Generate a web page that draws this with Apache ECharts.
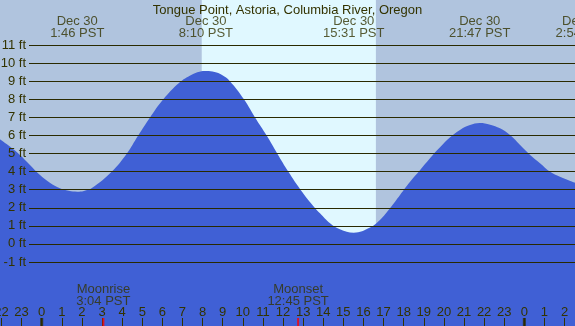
<!DOCTYPE html>
<html>
<head>
<meta charset="utf-8">
<script src="https://cdn.jsdelivr.net/npm/echarts@6/dist/echarts.min.js"></script>
<style>html,body{margin:0;padding:0;background:#B0C4DE;}#c{width:575px;height:326px;}</style>
</head>
<body>
<div id="c"></div>
<script>
// Hours relative to Dec 30 00:00 PST, tide level in ft
const hours = [-2.07, -1.58, -1.08, -0.58, -0.08, 0.41, 0.91, 1.35, 1.77, 2.10, 2.50, 3.48, 4.23, 4.80, 5.39, 6.05, 6.83, 7.46, 7.85, 8.20, 8.60, 8.95, 9.36, 10.06, 10.61, 11.19, 11.72, 12.27, 12.88, 13.59, 13.84, 14.34, 14.83, 15.52, 16.33, 16.82, 17.32, 17.82, 18.32, 18.82, 19.31, 19.81, 20.31, 20.80, 21.30, 21.78, 22.30, 22.79, 23.29, 23.79, 24.29, 24.78, 25.28, 25.77, 26.52];
const levels = [5.79, 5.39, 4.93, 4.38, 3.82, 3.40, 3.09, 2.95, 2.90, 2.94, 3.10, 4.00, 5.00, 6.00, 7.00, 8.00, 8.90, 9.35, 9.52, 9.56, 9.50, 9.35, 9.00, 8.00, 7.00, 6.00, 5.00, 4.00, 3.00, 2.00, 1.71, 1.16, 0.83, 0.64, 0.92, 1.34, 1.99, 2.72, 3.45, 4.10, 4.75, 5.35, 5.90, 6.31, 6.58, 6.69, 6.60, 6.40, 6.03, 5.48, 4.93, 4.47, 4.00, 3.73, 3.40];

const extremeHours = [1.767, 8.167, 15.517, 21.783, 26.9];
const extremeDates = ['Dec 30', 'Dec 30', 'Dec 30', 'Dec 30', 'Dec 31'];
const extremeTimes = ['1:46 PST', '8:10 PST', '15:31 PST', '21:47 PST', '2:54 PST'];

const moonHours = [3.067, 12.75];
const moonNames = ['Moonrise', 'Moonset'];
const moonTimes = ['3:04 PST', '12:45 PST'];

const midnightHours = [0, 24];
const sunrise = 7.96, sunset = 16.62;

const title = 'Tongue Point, Astoria, Columbia River, Oregon';
const txt = '#333300';
const font = 'Liberation Sans, Arial, sans-serif';
const fs = 13;

const chart = echarts.init(document.getElementById('c'), null, {renderer: 'canvas'});
chart.setOption({
  backgroundColor: '#B0C4DE',
  animation: false,
  title: {text: title, left: 'center', top: -1, textStyle: {fontSize: fs, fontWeight: 'normal', color: txt, fontFamily: font}},
  grid: [
    {left: 0, right: 0, top: 0, bottom: 0, outerBoundsMode: 'none', containLabel: false},
    {left: 29, right: 0, top: 45, bottom: 64, outerBoundsMode: 'none', containLabel: false},
    {left: 1.48, right: 10.44, top: 0, bottom: 0, outerBoundsMode: 'none', containLabel: false}
  ],
  xAxis: [
    {gridIndex: 0, type: 'value', min: -2.07, max: 26.52, show: false},
    {gridIndex: 1, type: 'value', min: 0, max: 1, show: false},
    {gridIndex: 2, type: 'value', min: -2, max: 26, interval: 1, z: 10,
      axisLine: {show: false}, splitLine: {show: false},
      axisTick: {inside: true, length: 8, lineStyle: {color: txt, width: 1}},
      axisLabel: {inside: true, margin: 7, color: txt, fontSize: fs, fontFamily: font, showMinLabel: true, showMaxLabel: true,
        formatter: v => String(((v % 24) + 24) % 24)}}
  ],
  yAxis: [
    {gridIndex: 0, type: 'value', min: -4.51, max: 13.48, show: false},
    {gridIndex: 1, type: 'value', min: -1, max: 11, interval: 1, z: 10,
      axisLine: {show: false}, axisTick: {show: false},
      splitLine: {show: true, lineStyle: {color: '#2a2a00', width: 1}},
      axisLabel: {margin: 3, color: txt, fontSize: fs, fontFamily: font, formatter: v => v + ' ft'}},
    {gridIndex: 2, type: 'value', min: 0, max: 1, show: false}
  ],
  series: [
    {type: 'line', xAxisIndex: 0, yAxisIndex: 0, data: [], z: 1, silent: true,
      markArea: {silent: true, itemStyle: {color: '#E0F8FF'}, data: [[{xAxis: sunrise}, {xAxis: sunset}]]}},
    {type: 'line', xAxisIndex: 0, yAxisIndex: 0, z: 2, smooth: 0.4, symbol: 'none',
      data: hours.map((h, i) => [h, levels[i]]),
      lineStyle: {width: 0}, areaStyle: {color: '#4060D5', opacity: 1, origin: 'start'}},
    {type: 'scatter', xAxisIndex: 2, yAxisIndex: 2, z: 20, clip: false, symbolSize: 0,
      data: extremeHours.map((h, i) => ({value: [h, 1], name: extremeDates[i] + '\n' + extremeTimes[i]})),
      label: {show: true, position: 'bottom', distance: 15, color: txt, fontSize: fs, lineHeight: 12, fontFamily: font,
        formatter: p => p.name}},
    {type: 'scatter', xAxisIndex: 2, yAxisIndex: 2, z: 20, clip: false, symbolSize: 0,
      data: moonHours.map((h, i) => ({value: [h, 0], name: moonNames[i] + '\n' + moonTimes[i]})),
      label: {show: true, position: 'top', distance: 18.5, color: txt, fontSize: fs, lineHeight: 12, fontFamily: font,
        formatter: p => p.name}},
    {type: 'scatter', xAxisIndex: 2, yAxisIndex: 2, z: 21, clip: false, symbol: 'rect', symbolSize: [2, 8], symbolOffset: [0, -4],
      itemStyle: {color: '#FF0000'}, data: moonHours.map(h => [h, 0])},
    {type: 'scatter', xAxisIndex: 2, yAxisIndex: 2, z: 21, clip: false, symbol: 'rect', symbolSize: [3, 8], symbolOffset: [0, -4],
      itemStyle: {color: '#2a2a00'}, data: midnightHours.map(h => [h, 0])}
  ]
});
</script>
</body>
</html>
